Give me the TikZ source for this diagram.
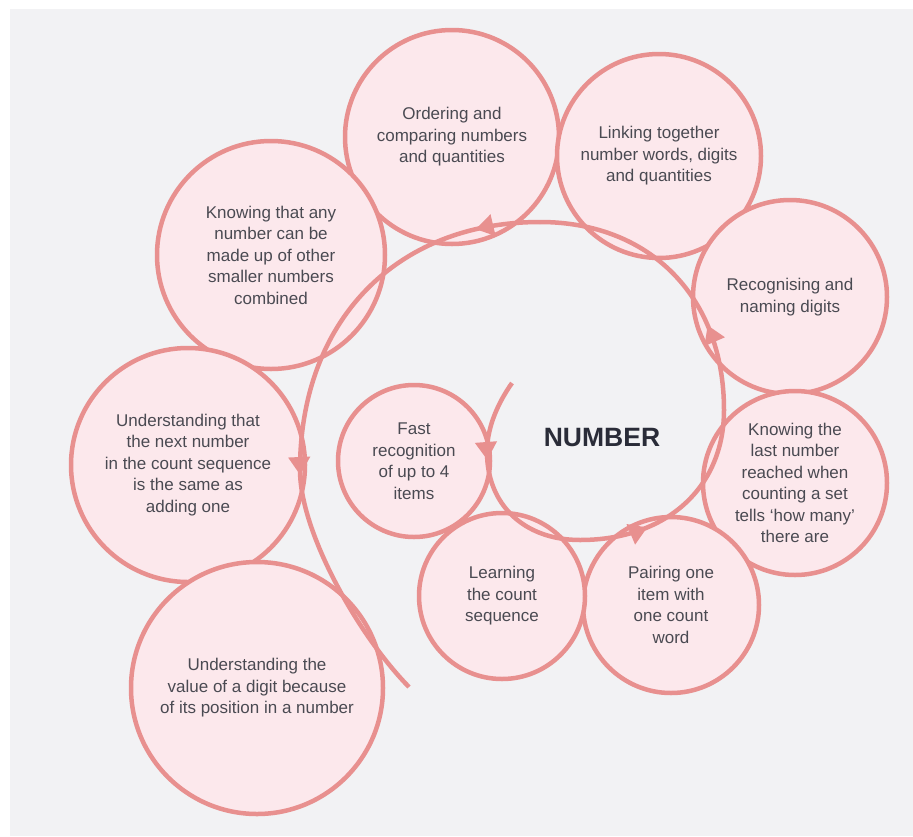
\documentclass[tikz,border=0pt]{standalone}
\usepackage{fontspec}
\setmainfont{Liberation Sans}
\usetikzlibrary{decorations.markings,arrows.meta}
\definecolor{bg}{HTML}{F2F2F4}
\definecolor{ring}{HTML}{E8908F}
\definecolor{bubblefill}{HTML}{FCE8EC}
\definecolor{txt}{HTML}{4A4A52}
\definecolor{titlecol}{HTML}{2A2C38}
\begin{document}
\begin{tikzpicture}[x=1pt,y=-1pt,
  bubble/.style={circle, draw=ring, fill=bubblefill, line width=4.5pt, align=center,
    text=txt, font=\fontsize{17}{21.5}\selectfont, inner sep=0pt},
  spiralseg/.style={draw=ring, line width=4.5pt},
  arrowat/.style={postaction={decorate},
    decoration={markings,
      mark=at position #1 with {\arrow[color=ring]{Triangle[width=21pt,length=18pt]}}}}
]
\useasboundingbox (0,0) rectangle (913,836);
\fill[white] (0,0) rectangle (913,836);
\fill[bg] (10,9) rectangle (913,836);

\node[bubble, minimum size=214pt] (ordering) at (452,137) {Ordering and\\comparing numbers\\and quantities};
\node[bubble, minimum size=204pt] (linking) at (659,156) {Linking together\\number words, digits\\and quantities};
\node[bubble, minimum size=194pt] (recog) at (790,297) {Recognising and\\naming digits};
\node[bubble, minimum size=184pt] (lastnum) at (795,483) {Knowing the\\last number\\reached when\\counting a set\\tells ‘how many’\\there are};
\node[bubble, minimum size=176pt] (pairing) at (671,605) {Pairing one\\item with\\one count\\word};
\node[bubble, minimum size=166pt] (learning) at (502,596) {Learning\\the count\\sequence};
\node[bubble, minimum size=152pt] (fast) at (414,461) {Fast\\recognition\\of up to 4\\items};
\node[bubble, minimum size=228pt] (anynum) at (271,255) {Knowing that any\\number can be\\made up of other\\smaller numbers\\combined};
\node[bubble, minimum size=234pt] (nextnum) at (188,465) {Understanding that\\the next number\\in the count sequence\\is the same as\\adding one};
\node[bubble, minimum size=252pt] (digitval) at (257,688) {Understanding the\\value of a digit because\\of its position in a number};

\node[font=\bfseries\fontsize{26.5}{30}\selectfont, text=titlecol] (number) at (602,438) {NUMBER};

% spiral key points
\coordinate (sA) at (512,383);
\coordinate (sB) at (487,452);
\coordinate (sC) at (580,540);
\coordinate (sD) at (724,410);
\coordinate (sE) at (540,222);
\coordinate (sF) at (300,470);
\coordinate (sG) at (409,687);

\draw[spiralseg] (sA) .. controls (500,400) and (487,425) .. (sB);
\draw[spiralseg, arrowat=8pt] (sB) .. controls (487,504.8) and (524.2,540) .. (sC);
\draw[spiralseg, arrowat=69pt] (sC) .. controls (666,540) and (724,488) .. (sD);
\draw[spiralseg, arrowat=87pt] (sD) .. controls (724,297) and (650,222) .. (sE);
\draw[spiralseg, arrowat=65pt] (sE) .. controls (396,222) and (300,321) .. (sF);
\draw[spiralseg, arrowat=5pt] (sF) .. controls (300,532) and (358,635) .. (sG);
\end{tikzpicture}
\end{document}
